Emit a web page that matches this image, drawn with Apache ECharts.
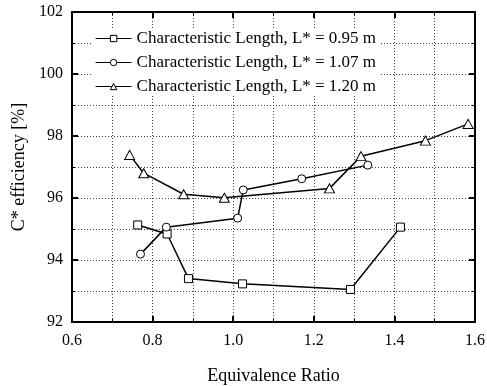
<!DOCTYPE html>
<html>
<head>
<meta charset="utf-8">
<script src="https://cdn.jsdelivr.net/npm/echarts@6/dist/echarts.min.js"></script>
<style>
  html, body { margin: 0; padding: 0; background: #fff; }
  #chart { width: 487px; height: 386px; }
</style>
</head>
<body>
<div id="chart"></div>
<script>
// data: [equivalence ratio, C* efficiency %]
var seriesNames = [
  'Characteristic Length, L* = 0.95 m',
  'Characteristic Length, L* = 1.07 m',
  'Characteristic Length, L* = 1.20 m'
]
var l095 = [[0.763, 95.13], [0.836, 94.84], [0.889, 93.40], [1.023, 93.23], [1.291, 93.05], [1.415, 95.06]]
var l107 = [[0.770, 94.19], [0.834, 95.06], [1.011, 95.35], [1.025, 96.26], [1.170, 96.62], [1.334, 97.06]]
var l120 = [[0.743, 97.39], [0.778, 96.80], [0.877, 96.12], [0.978, 96.01], [1.239, 96.31], [1.317, 97.35], [1.477, 97.85], [1.583, 98.39]]
var symbols = ['rect', 'circle', 'triangle']
var symbolSizes = [8, 8, [10, 9]]

var font = 'Liberation Serif, Times New Roman, serif'
var dotted = { color: '#444', width: 1, type: [1, 2] }

var myChart = echarts.init(document.getElementById('chart'))

function mainAxis(min, max, interval, pos, label) {
  return {
    type: 'value',
    position: pos,
    min: min,
    max: max,
    interval: interval,
    axisLine: { show: true, onZero: false, lineStyle: { color: '#000', width: 2 } },
    axisTick: { show: true, inside: true, length: 6, lineStyle: { color: '#000', width: 2 } },
    minorTick: { show: true, splitNumber: 2, length: 3, lineStyle: { color: '#000', width: 1 } },
    splitLine: { show: label, lineStyle: dotted },
    minorSplitLine: { show: label, lineStyle: dotted },
    axisLabel: { show: label, color: '#000', fontFamily: font, fontSize: 16 }
  }
}

var xBottom = mainAxis(0.6, 1.6, 0.2, 'bottom', true)
xBottom.axisLabel.margin = 11
xBottom.axisLabel.formatter = function (v) { return v.toFixed(1) }
xBottom.name = 'Equivalence Ratio'
xBottom.nameLocation = 'middle'
xBottom.nameGap = 45
xBottom.nameTextStyle = { color: '#000', fontFamily: font, fontSize: 18 }
var xTop = mainAxis(0.6, 1.6, 0.2, 'top', false)

var yLeft = mainAxis(92, 102, 2, 'left', true)
yLeft.axisLabel.margin = 9
yLeft.name = 'C* efficiency [%]'
yLeft.nameLocation = 'middle'
yLeft.nameGap = 42
yLeft.nameTextStyle = { color: '#000', fontFamily: font, fontSize: 18 }
var yRight = mainAxis(92, 102, 2, 'right', false)

var option = {
  animation: false,
  backgroundColor: '#fff',
  grid: { left: 72, right: 12, top: 12, bottom: 64, outerBoundsMode: 'none' },
  xAxis: [xBottom, xTop],
  yAxis: [yLeft, yRight],
  legend: {
    orient: 'vertical',
    left: 92,
    top: 29,
    itemWidth: 36,
    itemHeight: 8,
    itemGap: 7,
    padding: [1, 3],
    backgroundColor: '#fff',
    lineStyle: { width: 1.2 },
    itemStyle: { borderWidth: 1 },
    textStyle: { color: '#000', fontFamily: font, fontSize: 17 },
    data: seriesNames
  },
  series: [l095, l107, l120].map(function (d, i) {
    return {
      name: seriesNames[i],
      type: 'line',
      data: d,
      symbol: symbols[i],
      symbolSize: symbolSizes[i],
      showAllSymbol: true,
      lineStyle: { color: '#000', width: 1.5 },
      itemStyle: { color: '#fff', borderColor: '#000', borderWidth: 1 },
      z: 5
    }
  })
}

myChart.setOption(option)
</script>
</body>
</html>
